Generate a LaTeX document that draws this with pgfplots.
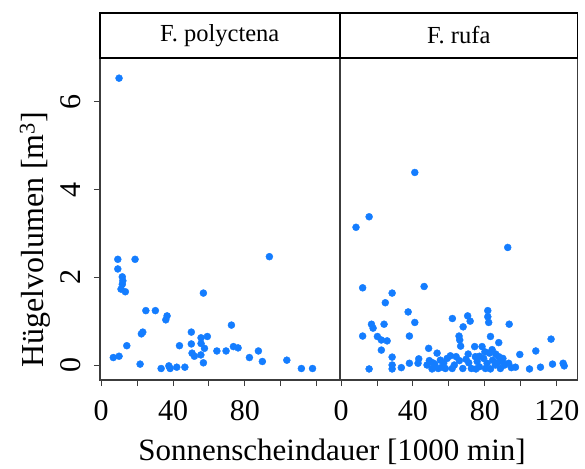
\documentclass[border=0pt]{standalone}
\usepackage{fontspec}
\setmainfont{Liberation Serif}
\usepackage{pgfplots}
\usepackage{pgfplotstable}
\usetikzlibrary{calc}
\pgfplotsset{compat=1.18}
\definecolor{pt}{RGB}{20,125,255}
\definecolor{frame}{RGB}{60,60,60}

\pgfplotstableread{
x y
9.3 2.41
18.9 2.41
9.3 2.19
11.8 2.01
12.1 1.92
11.8 1.84
11.1 1.73
13.5 1.67
93.6 2.47
56.9 1.64
24.9 1.24
30.2 1.24
36.7 1.12
36.0 1.03
23.2 0.75
22.4 0.71
72.5 0.91
50.2 0.75
55.6 0.62
59.1 0.65
55.6 0.49
57.5 0.38
50.2 0.48
43.6 0.44
14.3 0.44
73.6 0.42
76.2 0.39
64.4 0.32
69.5 0.32
50.6 0.27
51.9 0.20
55.5 0.23
87.5 0.32
6.8 0.17
10.0 0.20
82.5 0.17
21.7 0.02
56.9 0.05
89.7 0.08
103.3 0.11
33.4 -0.08
37.7 -0.02
38.4 -0.08
42.1 -0.05
46.6 -0.05
111.4 -0.08
117.6 -0.08
10.0 6.54
}\polyctena

\pgfplotstableread{
x y
8.3 3.14
15.6 3.38
92.7 2.68
41.0 4.39
12.0 1.76
46.2 1.79
28.4 1.64
24.6 1.42
37.3 1.21
41.0 0.97
16.9 0.93
17.8 0.84
23.9 0.93
12.0 0.66
38.0 0.66
20.2 0.65
22.4 0.57
25.6 0.55
22.4 0.34
15.6 -0.09
28.4 0.18
28.4 0.00
28.4 -0.09
33.5 -0.06
38.0 0.04
42.8 0.04
43.2 0.14
48.7 0.38
61.9 1.06
70.4 1.12
71.8 1.00
67.9 0.87
65.6 0.66
66.0 0.57
66.5 0.43
81.6 1.24
81.6 1.10
82.1 0.97
93.5 0.93
83.1 0.65
87.7 0.51
74.3 0.42
78.4 0.42
116.8 0.59
108.3 0.32
99.4 0.24
123.5 0.04
124.1 -0.02
117.6 0.02
110.9 -0.05
104.8 -0.09
97.0 -0.05
47.8 0.00
49.1 0.10
50.6 -0.09
52.1 0.02
53.4 0.27
54.0 -0.08
55.2 0.11
57.1 0.04
59.0 0.15
60.8 0.21
61.8 -0.08
64.0 0.19
65.8 0.10
67.7 -0.08
69.5 0.13
70.7 0.25
72.5 -0.08
74.7 0.19
75.7 0.08
76.9 -0.04
79.3 0.15
80.3 -0.08
81.2 0.04
82.5 0.27
83.1 -0.09
84.3 0.11
85.8 0.00
87.7 0.19
88.6 -0.08
89.6 0.08
91.0 0.00
93.2 0.04
94.7 -0.06
51.0 0.05
56.0 -0.05
63.0 0.00
71.0 0.05
77.0 0.20
80.0 0.30
84.0 0.35
86.0 0.25
90.0 0.15
58.0 -0.08
75.0 -0.09
87.0 0.05
}\rufa

\pgfplotsset{
  panel/.style={
    scale only axis, height=322bp,
    ymin=-0.342, ymax=7.0,
    xmin=-0.6,
    axis line style={frame, line width=1.1bp},
    tick style={frame, line width=1bp},
    tick align=outside, major tick length=6bp,
    xtick={0,20,...,120},
    /pgf/number format/assume math mode=true,
    tick label style={font=\fontsize{30bp}{36bp}\selectfont},
    xticklabel style={yshift=-11bp},
  },
  dots/.style={only marks, mark=*, mark size=3.5bp, draw=pt, fill=pt,
      mark options={draw=pt, fill=pt}},
}

\begin{document}
\begin{tikzpicture}[x=1bp,y=1bp]
\path[use as bounding box] (-100bp,-89bp) rectangle (485bp,380bp);

\begin{axis}[panel, at={(0bp,0bp)}, anchor=south west,
  width=239.5bp, xmax=132.6,
  xtick pos=bottom, ytick pos=left,
  xticklabels={0,,40,,80,,},
  ytick={0,2,4,6},
  yticklabel style={xshift=-10bp, rotate=90, anchor=south},
  xlabel={Sonnenscheindauer [1000 min]},
  xlabel style={font=\fontsize{31bp}{37bp}\selectfont, at={(axis description cs:0.969,-0.25)}, anchor=base},
  ylabel={Hügelvolumen [m\textsuperscript{3}]},
  ylabel style={font=\fontsize{32bp}{38bp}\selectfont, at={(axis description cs:-0.235,0.435)}, anchor=base},
]
\addplot[dots] table[x=x,y=y] {\polyctena};
\coordinate (LT) at (rel axis cs:0,1);
\coordinate (RT1) at (rel axis cs:1,1);
\end{axis}

\begin{axis}[panel, at={(240bp,0bp)}, anchor=south west,
  width=237.5bp, xmax=131.5,
  xtick pos=bottom,
  xticklabels={0,,40,,80,,120},
  ytick=\empty,
]
\addplot[dots] table[x=x,y=y] {\rufa};
\coordinate (LT2) at (rel axis cs:0,1);
\coordinate (RT2) at (rel axis cs:1,1);
\end{axis}

\draw[black, line width=1.4bp, fill=white] (LT) rectangle ([yshift=45bp]RT1);
\draw[black, line width=1.4bp, fill=white] (LT2) rectangle ([yshift=45bp]RT2);
\node[font=\fontsize{24.5bp}{29bp}\selectfont] at ($(LT)!0.5!(RT1)+(0bp,22.5bp)$) {F. polyctena};
\node[font=\fontsize{24.5bp}{29bp}\selectfont] at ($(LT2)!0.5!(RT2)+(0bp,22.5bp)$) {F. rufa};
\end{tikzpicture}
\end{document}
